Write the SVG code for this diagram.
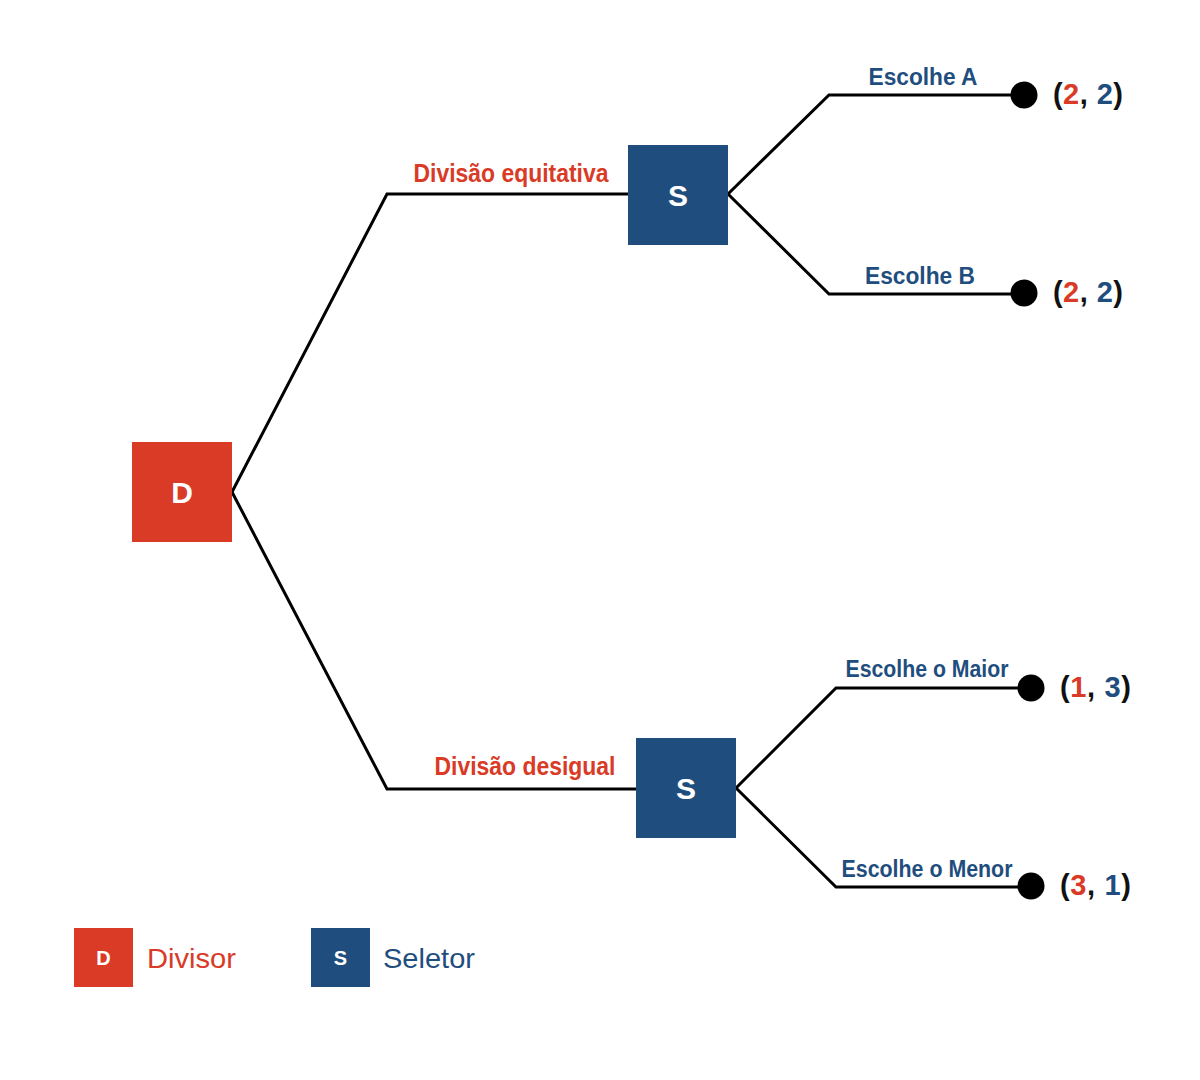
<svg xmlns="http://www.w3.org/2000/svg" width="1200" height="1080" viewBox="0 0 1200 1080">
<style>
.edge{fill:none;stroke:#000;stroke-width:3;stroke-linejoin:miter}
.red{fill:#D93B26}
.blue{fill:#1F4E7E}
.nodetxt{font-family:"Liberation Sans",Arial,sans-serif;font-weight:bold;fill:#fff;text-anchor:middle}
.lbl{font-family:"Liberation Sans Narrow","Liberation Sans",Arial,sans-serif;font-weight:bold;text-anchor:middle}
.pay{font-family:"Liberation Sans",Arial,sans-serif;font-weight:bold;font-size:29px;fill:#111}
.leg{font-family:"Liberation Sans",Arial,sans-serif;font-size:28px}
</style>
<rect width="1200" height="1080" fill="#fff"/>
<g id="connectors">
<polyline class="edge" points="232,492 387,194 628,194"/>
<polyline class="edge" points="232,492 387,789 636,789"/>
<polyline class="edge" points="728,194 829,95 1012,95"/>
<polyline class="edge" points="728,194 829,294 1012,294"/>
<polyline class="edge" points="736,788 836,688 1019,688"/>
<polyline class="edge" points="736,788 836,887 1019,887"/>
<text class="lbl red" x="511" y="182" font-size="26" textLength="195" lengthAdjust="spacingAndGlyphs">Divisão equitativa</text>
<text class="lbl red" x="525" y="775" font-size="26" textLength="181" lengthAdjust="spacingAndGlyphs">Divisão desigual</text>
<text class="lbl blue" x="923" y="85" font-size="23" textLength="109" lengthAdjust="spacingAndGlyphs">Escolhe A</text>
<text class="lbl blue" x="920" y="284" font-size="23" textLength="110" lengthAdjust="spacingAndGlyphs">Escolhe B</text>
<text class="lbl blue" x="927" y="677" font-size="23" textLength="163" lengthAdjust="spacingAndGlyphs">Escolhe o Maior</text>
<text class="lbl blue" x="927" y="877" font-size="23" textLength="171" lengthAdjust="spacingAndGlyphs">Escolhe o Menor</text>
</g>
<g id="node-D">
<rect class="red" x="132" y="442" width="100" height="100"/>
<text class="nodetxt" x="182" y="503" font-size="30">D</text>
</g>
<g id="node-S1">
<rect class="blue" x="628" y="145" width="100" height="100"/>
<text class="nodetxt" x="678" y="206" font-size="30">S</text>
</g>
<g id="node-S2">
<rect class="blue" x="636" y="738" width="100" height="100"/>
<text class="nodetxt" x="686" y="799" font-size="30">S</text>
</g>
<g id="leaf-A">
<circle cx="1024" cy="95" r="13.5" fill="#000"/>
<text class="pay" x="1053" y="104" textLength="70" lengthAdjust="spacing">(<tspan class="red">2</tspan>, <tspan class="blue">2</tspan>)</text>
</g>
<g id="leaf-B">
<circle cx="1024" cy="293" r="13.5" fill="#000"/>
<text class="pay" x="1053" y="302" textLength="70" lengthAdjust="spacing">(<tspan class="red">2</tspan>, <tspan class="blue">2</tspan>)</text>
</g>
<g id="leaf-Maior">
<circle cx="1031" cy="688" r="13.5" fill="#000"/>
<text class="pay" x="1060" y="697" textLength="71" lengthAdjust="spacing">(<tspan class="red">1</tspan>, <tspan class="blue">3</tspan>)</text>
</g>
<g id="leaf-Menor">
<circle cx="1031" cy="886" r="13.5" fill="#000"/>
<text class="pay" x="1060" y="895" textLength="71" lengthAdjust="spacing">(<tspan class="red">3</tspan>, <tspan class="blue">1</tspan>)</text>
</g>
<g id="legend">
<g id="legend-D">
<rect class="red" x="74" y="928" width="59" height="59"/>
<text class="nodetxt" x="103.5" y="965" font-size="20">D</text>
<text class="leg red" x="147" y="968" textLength="89" lengthAdjust="spacingAndGlyphs">Divisor</text>
</g>
<g id="legend-S">
<rect class="blue" x="311" y="928" width="59" height="59"/>
<text class="nodetxt" x="340.5" y="965" font-size="20">S</text>
<text class="leg blue" x="383" y="968" textLength="92" lengthAdjust="spacingAndGlyphs">Seletor</text>
</g>
</g>
</svg>
